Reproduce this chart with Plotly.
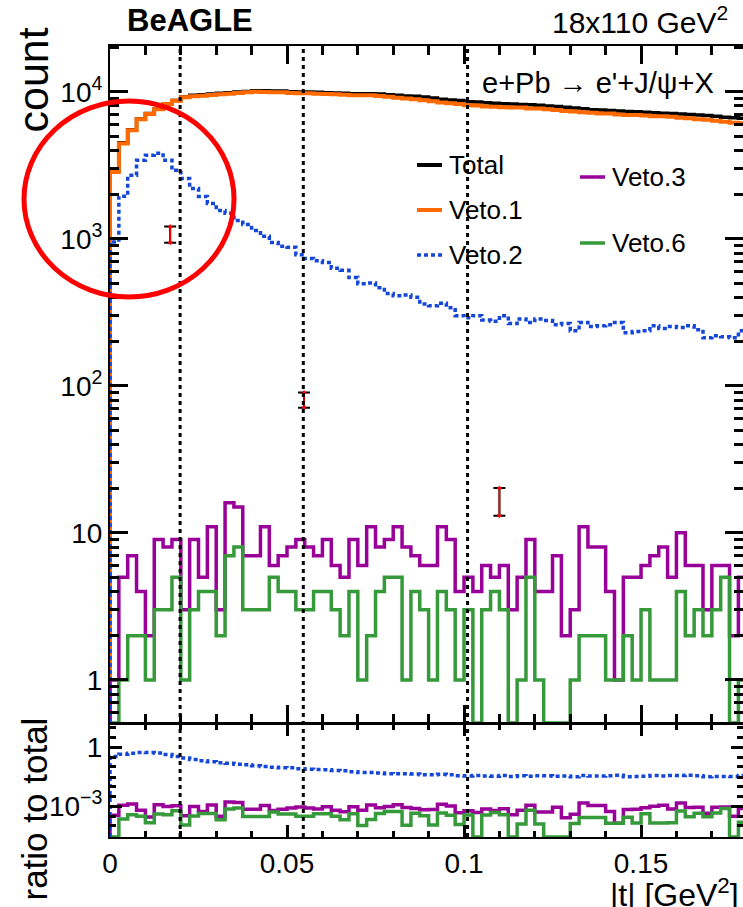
import plotly.graph_objects as go

# ---------------------------------------------------------------------------
# Binning in |t| (GeV^2)
# ---------------------------------------------------------------------------
BIN_W = 0.0025
N_BINS = 72
edges = [round(i * BIN_W, 6) for i in range(N_BINS + 1)]

# Counts per bin
total = [
    2900, 4500, 5520, 6530, 7100, 7640, 8290, 8730, 9220, 9450,
    9550, 9650, 9750, 9850, 9950, 10050, 10150, 10150, 10100, 10100,
    10000, 9950, 9950, 9900, 9850, 9800, 9750, 9700, 9700, 9700,
    9650, 9550, 9450, 9350, 9300, 9200, 9050, 8900, 8800, 8700,
    8550, 8500, 8400, 8350, 8300, 8250, 8200, 8150, 8100, 8000,
    7950, 7850, 7750, 7650, 7550, 7500, 7450, 7400, 7350, 7300,
    7250, 7200, 7150, 7100, 7050, 7000, 6950, 6900, 6800, 6700,
    6650, 6600,
]
veto1 = [
    2850, 4450, 5480, 6490, 7050, 7590, 8240, 8680, 9160, 9300,
    9400, 9500, 9600, 9700, 9800, 9900, 10000, 9950, 9900, 9900,
    9800, 9750, 9750, 9700, 9650, 9600, 9550, 9450, 9450, 9450,
    9350, 9250, 9100, 9000, 8900, 8750, 8600, 8450, 8350, 8250,
    8100, 8050, 7950, 7900, 7850, 7800, 7800, 7700, 7700, 7600,
    7500, 7400, 7350, 7250, 7200, 7100, 7100, 7000, 6950, 6950,
    6900, 6800, 6800, 6750, 6650, 6600, 6500, 6450, 6350, 6250,
    6150, 6100,
]
veto2 = [
    950, 1950, 2700, 3420, 3700, 3820, 3420, 2920, 2570, 2200,
    1940, 1740, 1560, 1490, 1330, 1250, 1140, 1040, 945, 890,
    875, 780, 735, 710, 690, 630, 610, 545, 495, 500,
    465, 425, 410, 415, 400, 360, 350, 365, 340, 300,
    290, 300, 280, 275, 300, 265, 285, 270, 285, 278,
    260, 265, 237, 270, 253, 256, 260, 270, 230, 234,
    237, 256, 245, 253, 249, 256, 241, 212, 219, 216,
    212, 237,
]
veto3 = [
    1, 5, 7, 4, 2, 9, 8, 9, 3, 9,
    5, 11, 3, 16, 15, 7, 7, 11, 6, 7,
    8, 9, 8, 7, 9, 6, 5, 9, 6, 11,
    8, 9, 11, 8, 7, 6, 6, 11, 9, 4,
    5, 4, 6, 5, 6, 3, 5, 9, 4, 4,
    7, 2, 3, 11, 8, 8, 4, 1, 5, 5,
    6, 7, 8, 5, 10, 6, 6, 3, 6, 6,
    2, 5,
]
veto6 = [
    0, 1, 2, 2, 1, 3, 3, 5, 1, 3,
    4, 4, 2, 7, 8, 3, 3, 3, 5, 4,
    4, 3, 3, 4, 4, 3, 2, 4, 1, 2,
    4, 5, 5, 1, 4, 3, 1, 4, 3, 1,
    3, 0, 3, 4, 3, 0, 1, 5, 1, 0,
    0, 0, 1, 2, 2, 2, 1, 1, 2, 1,
    3, 1, 1, 1, 4, 2, 3, 2, 3, 5,
    0, 1,
]

# Diffractive-minimum guide lines
dip_t = [0.0198, 0.0546, 0.1010]

# Reference points with uncertainty ranges
ref_t = [0.0170, 0.0548, 0.1100]
ref_val = [1065, 80, 16.3]
ref_lo = [940, 71, 13.1]
ref_hi = [1210, 90, 20.2]

# Axis ticks
x_tick_vals = [0, 0.05, 0.1, 0.15]
x_tick_text = ["0", "0.05", "0.1", "0.15"]
x_minor_vals = [0.01, 0.02, 0.03, 0.04, 0.06, 0.07, 0.08, 0.09,
                0.11, 0.12, 0.13, 0.14, 0.16, 0.17]
y_tick_vals = [1, 10, 100, 1000, 10000]
y_tick_text = ["1", "10", "10<sup>2</sup>", "10<sup>3</sup>", "10<sup>4</sup>"]
y_minor_vals = [m * d for d in (0.1, 1, 10, 100, 1000, 10000) for m in range(2, 10)]
r_tick_vals = [1e-3, 1]
r_tick_text = ["10<sup>\u22123</sup>", "1"]
r_minor_vals = [3e-5, 1e-4, 3e-4, 3e-3, 1e-2, 3e-2, 1e-1, 3e-1, 3, 10]

# ---------------------------------------------------------------------------
# Style
# ---------------------------------------------------------------------------
FONT = "Liberation Sans, Arial, Helvetica, sans-serif"
C_TOTAL = "#000000"
C_V1 = "#ff6a00"
C_V2 = "#1446d8"
C_V3 = "#990099"
C_V6 = "#36993a"

W, H = 743, 907
L, R, T, B = 110, 743, 46, 837          # outer frame of both pads (pixels)
MAIN_BOTTOM, RATIO_TOP = 723, 724

X_RANGE = [0, 0.1788]
Y_MAIN = [-0.293, 4.311]
Y_RATIO = [-4.57, 1.17]


def px(x):
    return (x - L) / (R - L)


def py(y):
    return (B - y) / (B - T)


def step_xy(vals, floor):
    """Histogram outline starting from the axis floor at the first edge."""
    ys = [max(v, floor) if v > 0 else floor for v in vals]
    xs = [edges[0]] + edges[:-1] + [edges[-1]]
    ys = [floor] + ys + [ys[-1]]
    return xs, ys


fig = go.Figure()

floor_main = 10 ** Y_MAIN[0]
floor_ratio = 10 ** Y_RATIO[0]

# Main pad histograms
for vals, color, width, dash in [
    (total, C_TOTAL, 3.5, "solid"),
    (veto1, C_V1, 4, "solid"),
    (veto3, C_V3, 3.5, "solid"),
    (veto6, C_V6, 3.5, "solid"),
    (veto2, C_V2, 3.5, "4px,3px"),
]:
    xs, ys = step_xy(vals, floor_main)
    fig.add_trace(go.Scatter(
        x=xs, y=ys, mode="lines", line=dict(color=color, width=width, dash=dash, shape="hv"),
        xaxis="x", yaxis="y", showlegend=False, hoverinfo="skip"))

# Ratio pad
for vals, color, width, dash in [
    (veto3, C_V3, 3.5, "solid"),
    (veto6, C_V6, 3.5, "solid"),
    (veto2, C_V2, 3.5, "4px,3px"),
]:
    ratio = [v / t for v, t in zip(vals, total)]
    xs, ys = step_xy(ratio, floor_ratio)
    fig.add_trace(go.Scatter(
        x=xs, y=ys, mode="lines", line=dict(color=color, width=width, dash=dash, shape="hv"),
        xaxis="x2", yaxis="y2", showlegend=False, hoverinfo="skip"))

# Reference points: black end caps
fig.add_trace(go.Scatter(
    x=ref_t, y=ref_val, mode="markers", marker=dict(size=1, color="rgba(0,0,0,0)"),
    error_y=dict(type="data", symmetric=False,
                 array=[h - v for h, v in zip(ref_hi, ref_val)],
                 arrayminus=[v - lo for v, lo in zip(ref_val, ref_lo)],
                 color="black", thickness=2, width=6),
    xaxis="x", yaxis="y", showlegend=False, hoverinfo="skip"))

# Red double-headed arrows between the caps
arr_x, arr_y, arr_sym = [], [], []
for t, lo, hi in zip(ref_t, ref_lo, ref_hi):
    arr_x += [t, t, None]
    arr_y += [lo, hi, None]
    arr_sym += ["triangle-down", "triangle-up", "circle"]
fig.add_trace(go.Scatter(
    x=arr_x, y=arr_y, mode="lines+markers",
    line=dict(color="#ff0000", width=1.6),
    marker=dict(symbol=arr_sym, size=5, color="#ff0000"),
    xaxis="x", yaxis="y", showlegend=False, hoverinfo="skip", connectgaps=False))

shapes = []
annotations = []

# Vertical dotted guides across both pads
for t in dip_t:
    shapes.append(dict(type="line", xref="x", yref="paper", x0=t, x1=t, y0=0, y1=1,
                       line=dict(color="black", width=3, dash="4px,4px")))

# Legend (drawn by hand in two columns)
legend_items = [
    ("Total", C_TOTAL, "solid", 4, 417, 165),
    ("Veto.1", C_V1, "solid", 4, 417, 210),
    ("Veto.2", C_V2, "4px,3px", 3.5, 417, 255),
    ("Veto.3", C_V3, "solid", 3.5, 580, 177),
    ("Veto.6", C_V6, "solid", 3.5, 580, 243),
]
for name, color, dash, width, x0, yc in legend_items:
    shapes.append(dict(type="line", xref="paper", yref="paper",
                       x0=px(x0), x1=px(x0 + 25), y0=py(yc), y1=py(yc),
                       line=dict(color=color, width=width, dash=dash)))
    annotations.append(dict(x=px(x0 + 30), y=py(yc), xref="paper", yref="paper",
                            text=name, showarrow=False, xanchor="left", yanchor="middle",
                            font=dict(family=FONT, size=26, color="black")))

# Highlight circle
shapes.append(dict(type="circle", xref="paper", yref="paper",
                   x0=px(24), x1=px(234), y0=py(297), y1=py(101),
                   line=dict(color="#ff0000", width=5)))

# Texts
annotations += [
    dict(x=px(125), y=py(21), xref="paper", yref="paper", text="<b>BeAGLE</b>",
         showarrow=False, xanchor="left", yanchor="middle",
         font=dict(family=FONT, size=31, color="black")),
    dict(x=px(730), y=py(20), xref="paper", yref="paper", text="18x110 GeV<sup>2</sup>",
         showarrow=False, xanchor="right", yanchor="middle",
         font=dict(family=FONT, size=30, color="black")),
    dict(x=px(716), y=py(83), xref="paper", yref="paper",
         text="e+Pb \u2192 e'+J/\u03c8+X",
         showarrow=False, xanchor="right", yanchor="middle",
         font=dict(family=FONT, size=29, color="black")),
    dict(x=px(33), y=py(26), xref="paper", yref="paper", text="count", textangle=-90,
         showarrow=False, xanchor="center", yanchor="top",
         font=dict(family=FONT, size=43, color="black")),
    dict(x=px(34), y=py(716), xref="paper", yref="paper", text="ratio to total", textangle=-90,
         showarrow=False, xanchor="center", yanchor="top",
         font=dict(family=FONT, size=35, color="black")),
    dict(x=px(608), y=py(893), xref="paper", yref="paper", text="|t| [GeV<sup>2</sup>]",
         showarrow=False, xanchor="left", yanchor="middle",
         font=dict(family=FONT, size=32, color="black")),
]

tick_font = dict(family=FONT, size=28, color="black")


def frame_axis(**kw):
    """ROOT-like frame: line on both sides, ticks pointing inward on both sides."""
    base = dict(showline=True, linecolor="black", linewidth=2, mirror="ticks",
                ticks="inside", tickwidth=3, tickcolor="black",
                showgrid=False, zeroline=False)
    base.update(kw)
    return base


def minor_ticks(vals, length):
    return dict(ticks="inside", ticklen=length, tickwidth=2.5, tickvals=vals,
                tickcolor="black", showgrid=False)


fig.update_layout(
    width=W, height=H,
    margin=dict(l=L, r=W - R, t=T, b=H - B, autoexpand=False),
    paper_bgcolor="white", plot_bgcolor="white",
    font=dict(family=FONT, color="black"),
    shapes=shapes, annotations=annotations,
    xaxis=frame_axis(domain=[0, 1], range=X_RANGE, anchor="y",
                     tickvals=x_tick_vals, showticklabels=False, ticklen=18,
                     minor=minor_ticks(x_minor_vals, 9)),
    yaxis=frame_axis(type="log", domain=[py(MAIN_BOTTOM), 1], range=Y_MAIN, anchor="x",
                     tickvals=y_tick_vals, ticktext=y_tick_text, tickfont=tick_font,
                     ticklen=18, minor=minor_ticks(y_minor_vals, 9)),
    xaxis2=frame_axis(domain=[0, 1], range=X_RANGE, anchor="y2",
                      tickvals=x_tick_vals, ticktext=x_tick_text, tickfont=tick_font,
                      ticklen=12, minor=minor_ticks(x_minor_vals, 6)),
    yaxis2=frame_axis(type="log", domain=[0, py(RATIO_TOP)], range=Y_RATIO, anchor="x2",
                      tickvals=r_tick_vals, ticktext=r_tick_text, tickfont=tick_font,
                      ticklen=12, minor=minor_ticks(r_minor_vals, 6)),
)

fig.write_html("out.html")
